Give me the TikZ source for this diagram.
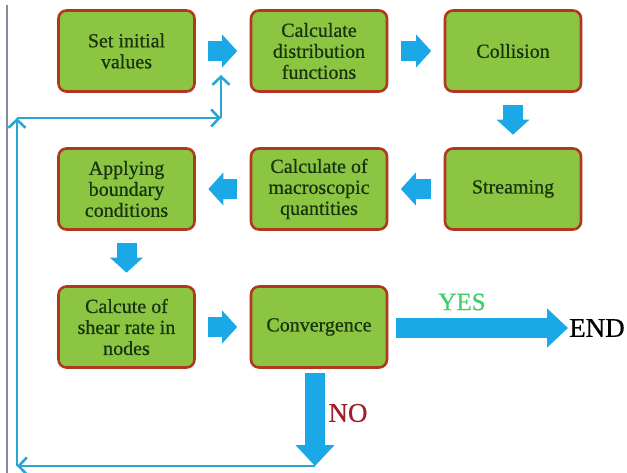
\documentclass[tikz,border=0pt]{standalone}
\usepackage{fontspec}
\setmainfont{Liberation Serif}
\newfontfamily\heavyserif[FakeBold=0.6]{Liberation Serif}
\usetikzlibrary{arrows.meta}

\definecolor{boxfill}{RGB}{140,197,66}
\definecolor{boxline}{RGB}{176,56,32}
\definecolor{boxtext}{RGB}{24,52,14}
\definecolor{flowblue}{RGB}{27,168,230}
\definecolor{loopblue}{RGB}{40,166,212}
\definecolor{yesgreen}{RGB}{62,204,110}
\definecolor{nored}{RGB}{160,30,40}
\definecolor{edgegray}{RGB}{138,138,154}

\tikzset{
  stepbox/.style={draw=boxline, line width=2.6pt, fill=boxfill, rounded corners=8pt,
    minimum width=136pt, minimum height=81pt, align=center, text=boxtext,
    font=\heavyserif\fontsize{20}{21}\selectfont, inner sep=2pt},
  blockarrow/.style={draw=flowblue, line width=20pt,
    -{Triangle[length=15pt, width=32pt]}, shorten <=12.5pt, shorten >=12.5pt},
  bigarrow/.style={draw=flowblue, line width=20pt,
    -{Triangle[length=21pt, width=38pt]}},
  loopline/.style={draw=loopblue, line width=2.6pt,
    -{Straight Barb[length=8pt, width=17pt, line width=2.6pt]}},
  label/.style={inner sep=0pt, font=\heavyserif\fontsize{27}{27}\selectfont},
}

\begin{document}
\begin{tikzpicture}[x=1pt, y=-1pt]
  \useasboundingbox (0,0) rectangle (627,473);
  \fill[white] (0,0) rectangle (627,473);

  % left page rule
  \draw[edgegray, line width=1.2pt] (7,5) -- (7,473);

  % process steps
  \node[stepbox] (init)  at (126.5,51)  {Set initial\\values};
  \node[stepbox] (dist)  at (319,51)    {Calculate\\distribution\\functions};
  \node[stepbox] (coll)  at (513,51)    {Collision};
  \node[stepbox] (bound) at (126.5,189) {Applying\\boundary\\conditions};
  \node[stepbox] (macro) at (319,189)   {Calculate of\\macroscopic\\quantities};
  \node[stepbox] (strm)  at (513,189)   {Streaming};
  \node[stepbox] (shear) at (126.5,327) {Calcute of\\shear rate in\\nodes};
  \node[stepbox] (conv)  at (319,327)   {Convergence};

  \node[label, anchor=west] (end) at (569,328) {END};
  \node[label, text=yesgreen, font=\heavyserif\fontsize{25}{25}\selectfont] (yes) at (462,302) {YES};
  \node[label, text=nored] (no) at (348,413) {NO};

  % flow between steps
  \draw[blockarrow] (init) -- (dist);
  \draw[blockarrow] (dist) -- (coll);
  \draw[blockarrow] (coll) -- (strm);
  \draw[blockarrow] (strm) -- (macro);
  \draw[blockarrow] (macro) -- (bound);
  \draw[blockarrow] (bound) -- (shear);
  \draw[blockarrow] (shear) -- (conv);

  % convergence outcomes
  \draw[bigarrow, shorten <=8pt, shorten >=1pt] (conv.east |- end.west) -- (end.west);
  \coordinate (notip) at (315,466);
  \draw[bigarrow, shorten <=5pt] (315,368) -- (notip);

  % return loop
  \coordinate (c1) at (17,466);
  \coordinate (c2) at (17,118);
  \coordinate (c3) at (221,118);
  \coordinate (c4) at (221,75);
  \draw[loopline] (notip) -- (c1);
  \draw[loopline] (c1) -- (c2);
  \draw[loopline] (c2) -- (c3);
  \draw[loopline] (c3) -- (c4);
\end{tikzpicture}
\end{document}
